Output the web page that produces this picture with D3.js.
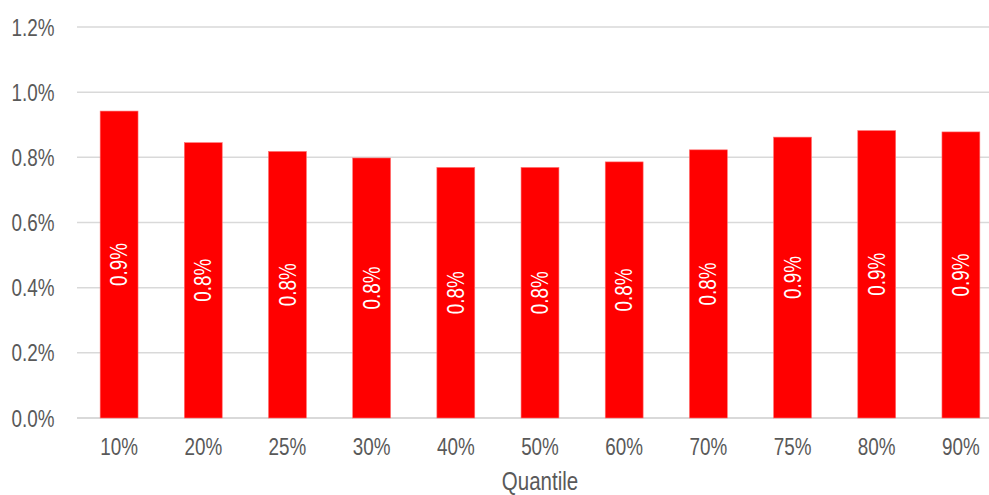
<!DOCTYPE html>
<html>
<head>
<meta charset="utf-8">
<script src="https://cdn.jsdelivr.net/npm/d3@7"></script>
<style>
  html, body { margin: 0; padding: 0; background: #fff; }
  svg { display: block; }
  text { font-family: "Liberation Sans Narrow", "Arial Narrow", "Liberation Sans", Arial, sans-serif; }
</style>
</head>
<body>
<svg id="chart" width="989" height="495"></svg>
<script>
const categories = ["10%", "20%", "25%", "30%", "40%", "50%", "60%", "70%", "75%", "80%", "90%"];
const values = [0.942, 0.845, 0.818, 0.798, 0.769, 0.769, 0.786, 0.823, 0.862, 0.882, 0.878];
const labels = ["0.9%", "0.8%", "0.8%", "0.8%", "0.8%", "0.8%", "0.8%", "0.8%", "0.9%", "0.9%", "0.9%"];
const yTicks = [0, 0.2, 0.4, 0.6, 0.8, 1.0, 1.2];
const xTitle = "Quantile";

// emulate a condensed face if no narrow font is installed
const narrowAvailable = document.fonts && document.fonts.check('23px "Liberation Sans Narrow"') &&
  (() => { const c = document.createElement("canvas").getContext("2d");
           c.font = '23px "Liberation Sans Narrow", monospace'; const a = c.measureText("Quantile").width;
           c.font = '23px monospace'; const b = c.measureText("Quantile").width; return a !== b; })();
const SX = narrowAvailable ? 1 : 0.82;

const svg = d3.select("#chart");
const x = d3.scaleBand().domain(categories).range([77, 1003]).paddingInner(0.55).paddingOuter(0.275);
const y = d3.scaleLinear().domain([0, 1.2]).range([418, 27]);

// gridlines
svg.append("g").selectAll("line").data(yTicks).join("line")
  .attr("x1", 77).attr("x2", 1003)
  .attr("y1", d => y(d)).attr("y2", d => y(d))
  .attr("stroke", "#d9d9d9").attr("stroke-width", d => d === 0 ? 2 : 1.5);

// y axis labels
const yAxis = d3.axisLeft(y).tickValues(yTicks).tickFormat(d => d.toFixed(1) + "%").tickSize(0).tickPadding(0);
const gy = svg.append("g").attr("transform", "translate(54.5,0)").call(yAxis);
gy.select(".domain").remove();
gy.selectAll("text").attr("fill", "#595959").style("font-size", "23px")
  .attr("font-family", null)
  .attr("dy", "0.35em").attr("transform", `scale(${SX},1)`);

// bars
svg.append("g").selectAll("rect").data(values).join("rect")
  .attr("x", (d, i) => x(categories[i]))
  .attr("width", x.bandwidth())
  .attr("y", d => y(d))
  .attr("height", d => y(0) - y(d))
  .attr("fill", "#ff0000")
  .attr("stroke", "#ff7070").attr("stroke-width", 0.6);

// bar labels
svg.append("g").selectAll("text").data(values).join("text")
  .attr("transform", (d, i) => `translate(${x(categories[i]) + x.bandwidth() / 2},${(y(d) + y(0)) / 2}) rotate(-90) scale(${SX},1)`)
  .attr("text-anchor", "middle").attr("dy", "0.35em")
  .attr("fill", "#ffffff").style("font-size", "23px")
  .text((d, i) => labels[i]);

// x axis labels
const xAxis = d3.axisBottom(x).tickSize(0).tickPadding(0);
const gx = svg.append("g").attr("transform", "translate(0,439)").call(xAxis);
gx.select(".domain").remove();
gx.selectAll("text").attr("fill", "#595959").style("font-size", "23px")
  .attr("font-family", null)
  .attr("dy", "0.71em").attr("transform", `scale(${SX},1)`);

// x title
svg.append("text")
  .attr("transform", `translate(540,489.5) scale(${SX},1)`)
  .attr("text-anchor", "middle").attr("fill", "#595959").style("font-size", "25px")
  .text(xTitle);
</script>
</body>
</html>
